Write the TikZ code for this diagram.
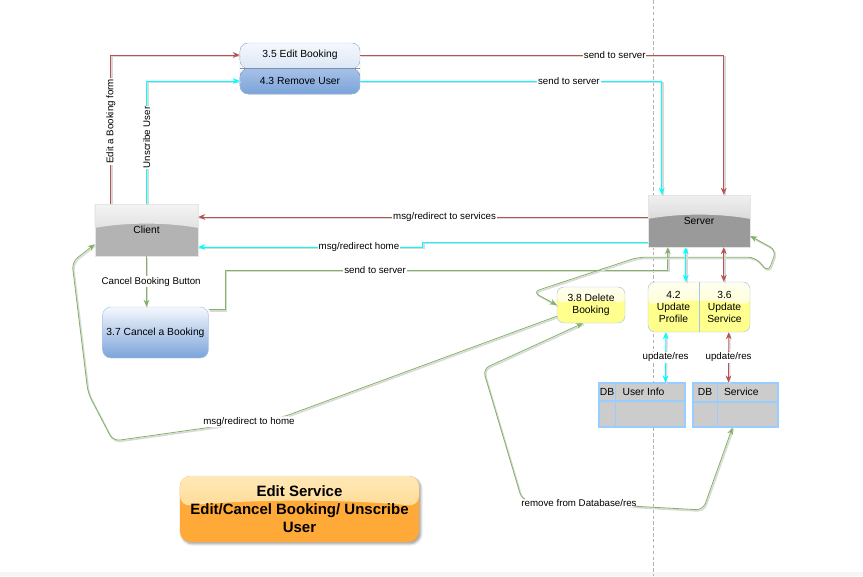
\documentclass[tikz,border=0pt]{standalone}
\usepackage{fontspec}
\setmainfont{Liberation Sans}
\usetikzlibrary{arrows.meta,calc,shadows.blur}

\definecolor{flowred}{HTML}{B85450}
\definecolor{flowcyan}{HTML}{00FFFF}
\definecolor{flowgreen}{HTML}{82B366}
\definecolor{edgeblue}{HTML}{A9C4EB}
\definecolor{splitgrey}{HTML}{7F8FA3}
\definecolor{bluetop}{HTML}{F5F8FD}
\definecolor{bluemid}{HTML}{C3D6EF}
\definecolor{bluedeep}{HTML}{A6C1E8}
\definecolor{bluebot}{HTML}{7BA3D9}
\definecolor{yeltop}{HTML}{FFFFF0}
\definecolor{yelmid}{HTML}{FFFFB8}
\definecolor{yelbase}{HTML}{FFFF8E}
\definecolor{greytop}{HTML}{F4F4F4}
\definecolor{greymid}{HTML}{CDCDCD}
\definecolor{clientgrey}{HTML}{B3B3B3}
\definecolor{servertop}{HTML}{F0F0F0}
\definecolor{servermid}{HTML}{C2C2C2}
\definecolor{servergrey}{HTML}{9A9A9A}
\definecolor{orangetop}{HTML}{FFE9B8}
\definecolor{orangemid}{HTML}{FFCB70}
\definecolor{orangebot}{HTML}{FFAA38}
\definecolor{dbfill}{HTML}{CCCCCC}
\definecolor{dbline}{HTML}{99CCFF}

\newcommand\boxfont{\fontsize{8.8}{10.4}\selectfont}
\newcommand\edgefont{\fontsize{8.3}{9.5}\selectfont}
\newcommand\titlefont{\fontsize{12.8}{15.4}\selectfont\bfseries}

\tikzset{
  gloss/.style n args={3}{fill=#3, path picture={
      \fill[top color=#1, bottom color=#2] let \p1=(path picture bounding box.south west),
        \p2=(path picture bounding box.north east) in
        (\x1,\y2) -- (\x2,\y2) -- (\x2,{\y1+0.54*(\y2-\y1)})
        .. controls ({\x1+0.7*(\x2-\x1)},{\y1+0.65*(\y2-\y1)}) and ({\x1+0.3*(\x2-\x1)},{\y1+0.65*(\y2-\y1)})
        .. (\x1,{\y1+0.54*(\y2-\y1)}) -- cycle;}},
  entity/.style={draw=gray!20, font=\boxfont},
  procblue/.style={draw=edgeblue, rounded corners=7pt, top color=bluetop, middle color=bluemid,
      bottom color=bluebot, font=\boxfont, align=center},
  procyel/.style={draw=edgeblue, rounded corners=6pt, gloss={yeltop}{yelmid}{yelbase},
      font=\boxfont, align=center},
  editsplit/.style={draw=edgeblue, rounded corners=7pt, path picture={
      \fill[top color=bluetop, bottom color=bluemid] (path picture bounding box.north west) rectangle (path picture bounding box.east);
      \fill[top color=bluedeep, bottom color=bluebot] (path picture bounding box.west) rectangle (path picture bounding box.south east);}},
  store/.style={draw=dbline, line width=0.9pt, fill=dbfill},
  titlebox/.style={rounded corners=9pt, gloss={orangetop}{orangemid}{orangebot},
      blur shadow={shadow xshift=1.5pt, shadow yshift=-1.5pt, shadow blur steps=6},
      font=\titlefont, align=center},
  flow/.style={line width=0.7pt, preaction={draw=black!15, line width=1.3pt, -,
      transform canvas={shift={(0.9pt,-1.1pt)}}}},
  flowlabel/.style={fill=white, text=black, inner sep=0.8pt, font=\edgefont}
}

\begin{document}
\begin{tikzpicture}[x=0.03cm, y=-0.03cm, >={Stealth[length=6pt,width=5pt]}]
  \useasboundingbox (0,0) rectangle (863,576);
  \fill[gray!8] (0,572) rectangle (863,576);
  \draw[gray!60, line width=0.5pt, dash pattern=on 3pt off 2pt] (653,0) -- (653,576);

  % processes and entities
  \node[editsplit, minimum width=3.6cm, minimum height=1.53cm] (edbox) at (300,68.5) {};
  \draw[splitgrey, line width=0.8pt] (edbox.west) -- (edbox.east);
  \node[font=\boxfont] (eb) at (300,55) {3.5 Edit Booking};
  \node[font=\boxfont] (ru) at (300,81) {4.3 Remove User};

  \node[entity, gloss={greytop}{greymid}{clientgrey}, minimum width=3.09cm, minimum height=1.56cm] (client) at (146.5,230) {Client};
  \node[entity, gloss={servertop}{servermid}{servergrey}, minimum width=3.06cm, minimum height=1.56cm] (server) at (699,221) {Server};
  \node[procblue, minimum width=3.09cm, minimum height=1.53cm] (cancel) at (155.5,332.5) {3.7 Cancel a Booking};
  \node[procyel, minimum width=2.04cm, minimum height=1.08cm] (del) at (591,305) {3.8 Delete\\Booking};

  \node[procyel, minimum width=3.06cm, minimum height=1.5cm] (upd) at (699,307) {};
  \draw[edgeblue, line width=0.6pt] (upd.north) -- (upd.south);
  \node[font=\boxfont, align=center] (prof) at (673.5,307) {4.2\\Update\\Profile};
  \node[font=\boxfont, align=center] (serv) at (724.5,307) {3.6\\Update\\Service};

  % data stores
  \node[store, minimum width=2.58cm, minimum height=1.32cm] (dbu) at (642,405) {};
  \draw[dbline, line width=0.9pt] ($(dbu.north west)+(17,0)$) -- ($(dbu.south west)+(17,0)$);
  \draw[dbline, line width=0.9pt] ($(dbu.west)+(0,-4)$) -- ($(dbu.east)+(0,-4)$);
  \node[font=\boxfont] (dbuk) at ($(dbu.north west)+(8.5,9)$) {DB};
  \node[font=\boxfont, anchor=west] (dbun) at ($(dbu.north west)+(20,9)$) {User Info};

  \node[store, minimum width=2.55cm, minimum height=1.32cm] (dbs) at (735.5,405) {};
  \draw[dbline, line width=0.9pt] ($(dbs.north west)+(25,0)$) -- ($(dbs.south west)+(25,0)$);
  \draw[dbline, line width=0.9pt] ($(dbs.west)+(0,-3)$) -- ($(dbs.east)+(0,-3)$);
  \node[font=\boxfont] (dbsk) at ($(dbs.north west)+(12.5,9)$) {DB};
  \node[font=\boxfont, anchor=west] (dbsn) at ($(dbs.north west)+(27.5,9)$) {Service};

  \node[titlebox, minimum width=7.17cm, minimum height=1.98cm] (title) at (299.5,509)
    {Edit Service\\Edit/Cancel Booking/ Unscribe\\User};

  % flows
  \draw[flow, flowred, ->] ($(client.north west)+(16,0)$) |- (eb -| edbox.west)
    node[flowlabel, sloped, pos=0.277] {Edit a Booking form};
  \draw[flow, flowcyan, ->] ($(client.north west)+(52,0)$) |- (ru -| edbox.west)
    node[flowlabel, sloped, pos=0.27] {Unscribe User};
  \draw[flow, flowred, ->] (eb -| edbox.east) -| ($(server.north west)+(76,0)$)
    node[flowlabel, pos=0.35] {send to server};
  \draw[flow, flowcyan, ->] (ru -| edbox.east) -| ($(server.north west)+(14,0)$)
    node[flowlabel, pos=0.346] {send to server};
  \draw[flow, flowred, ->] ($(server.west)+(0,-4)$) -- ($(client.east)+(0,-13)$)
    node[flowlabel, pos=0.452] {msg/redirect to services};
  \draw[flow, flowcyan, ->] ($(server.west)+(0,21)$) -- ++(-225,0) -- ++(0,5) -- ($(client.east)+(0,17)$)
    node[flowlabel, pos=0.284] {msg/redirect home};
  \draw[flow, flowgreen, ->] (client.south) -- (client.south |- cancel.north)
    node[flowlabel, midway, xshift=4pt] {Cancel Booking Button};
  \draw[flow, flowgreen, ->] ($(cancel.north east)+(0,3)$) -- ++(17,0) |- ($(server.south west)+(20,23)$)
    node[flowlabel, pos=0.669] {send to server} -- ($(server.south west)+(20,0)$);
  \draw[flow, flowgreen, <->, rounded corners=6pt] (del.west) -- ($(del.west)+(-24,-13)$)
    -- ($(server.south west)+(-10,10)$) -- ($(server.south east)+(5,10)$)
    -- ($(server.south east)+(18,25)$) -- ($(server.south east)+(26,3)$) -- ($(server.east)+(0,15)$);
  \draw[flow, flowgreen, ->, rounded corners=6pt] ($(del.south west)+(0,-7)$) -- (283,417)
    -- (113,441) node[flowlabel, pos=0.2] {msg/redirect to home}
    -- (88,393) -- (72,262) -- ($(client.south west)+(0,-12)$);
  \draw[flow, flowgreen, <->, rounded corners=6pt] ($(del.south)+(-8,0)$) -- (483,369) -- (522,500)
    -- (703,510) node[flowlabel, pos=0.315] {remove from Database/res}
    -- ($(dbs.south west)+(40,0)$);
  \draw[flow, flowcyan, <->] ($(server.south west)+(38,0)$) -- ($(upd.north west)+(38,0)$);
  \draw[flow, flowred, <->] ($(server.south west)+(76,0)$) -- ($(upd.north west)+(76,0)$);
  \draw[flow, flowcyan, <->] ($(upd.south west)+(18,0)$) -- ($(dbu.north west)+(67,0)$)
    node[flowlabel, midway] {update/res};
  \draw[flow, flowred, <->] ($(upd.south west)+(81,0)$) -- ($(dbs.north west)+(36,0)$)
    node[flowlabel, midway] {update/res};
\end{tikzpicture}
\end{document}
